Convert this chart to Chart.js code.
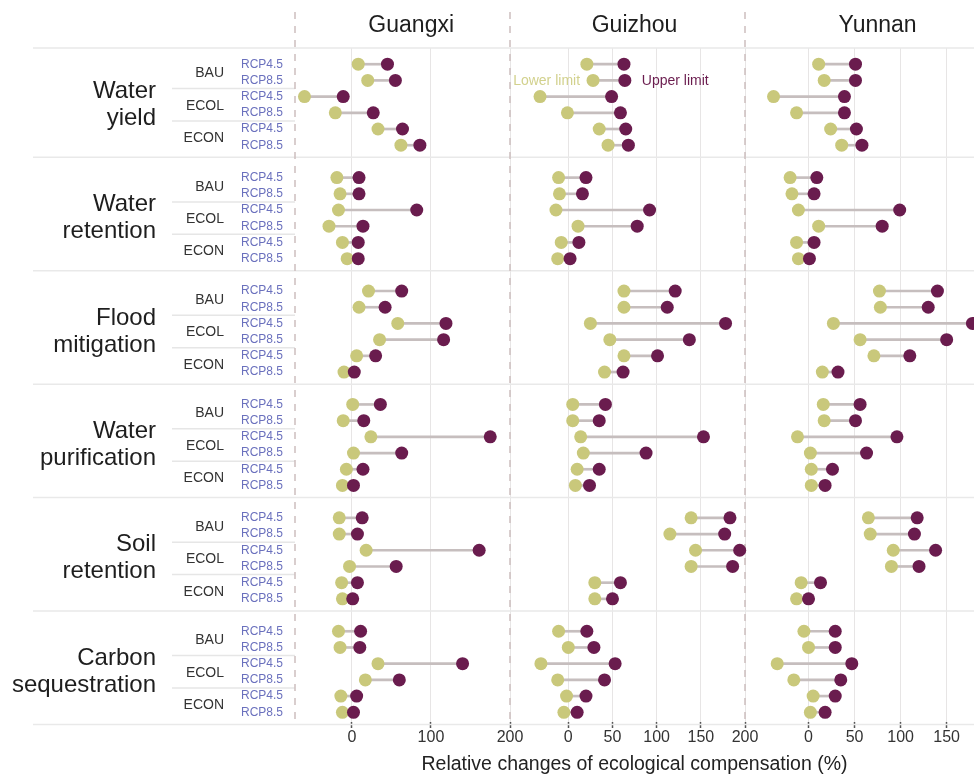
<!DOCTYPE html>
<html>
<head>
<meta charset="utf-8">
<title>Relative changes of ecological compensation</title>
<script src="https://cdn.jsdelivr.net/npm/chart.js@4.4.1/dist/chart.umd.min.js"></script>
<style>
  html, body { margin: 0; padding: 0; background: #fff; }
  #wrap { position: relative; width: 974px; height: 776px; }
</style>
</head>
<body>
<div id="wrap"><canvas id="dumbbell"></canvas></div>
<script>
const services = [['Water', 'yield'], ['Water', 'retention'], ['Flood', 'mitigation'],
                  ['Water', 'purification'], ['Soil', 'retention'], ['Carbon', 'sequestration']];
const scenarios = ['BAU', 'ECOL', 'ECON'];
const rcps = ['RCP4.5', 'RCP8.5'];
const regions = ['Guangxi', 'Guizhou', 'Yunnan'];

// rows: service -> scenario -> rcp (6 per service)
const guangxiLower = [8, 20, -60, -21, 33, 62,   -19, -15, -17, -29, -12, -6,
                      21, 9, 58, 35, 6, -10,     1, -11, 24, 2, -7, -12,
                      -16, -16, 18, -3, -13, -12, -17, -15, 33, 17, -14, -12];
const guangxiUpper = [45, 55, -11, 27, 64, 86,   9, 9, 82, 14, 8, 8,
                      63, 42, 119, 116, 30, 3,   36, 15, 175, 63, 14, 2,
                      13, 7, 161, 56, 7, 1,      11, 10, 140, 60, 6, 2];
const guizhouLower = [21, 28, -32, -1, 35, 45,   -11, -10, -14, 11, -8, -12,
                      63, 63, 25, 47, 63, 41,    5, 5, 14, 17, 10, 8,
                      139, 115, 144, 139, 30, 30, -11, 0, -31, -12, -2, -5];
const guizhouUpper = [63, 64, 49, 59, 65, 68,    20, 16, 92, 78, 12, 2,
                      121, 112, 178, 137, 101, 62, 42, 35, 153, 88, 35, 24,
                      183, 177, 194, 186, 59, 50, 21, 29, 53, 41, 20, 10];
const yunnanLower = [11, 17, -38, -13, 24, 36,   -20, -18, -11, 11, -13, -11,
                     77, 78, 27, 56, 71, 15,     16, 17, -12, 2, 3, 3,
                     65, 67, 92, 90, -8, -13,    -5, 0, -34, -16, 5, 2];
const yunnanUpper = [51, 51, 39, 39, 52, 58,     9, 6, 99, 80, 6, 1,
                     140, 130, 178, 150, 110, 32, 56, 51, 96, 63, 26, 18,
                     118, 115, 138, 120, 13, 0,  29, 29, 47, 35, 29, 18];

const guangxiTicks = [0, 100, 200];
const guizhouTicks = [0, 50, 100, 150, 200];
const yunnanTicks = [0, 50, 100, 150];

const lowerColor = '#c9c87b';
const upperColor = '#6a1c4e';
const stemColor = '#c6bebe';
const rcpColor = '#6a70bd';
const family = "'Liberation Sans', Arial, sans-serif";

// 6 rows per service, one empty slot between services
const rowPos = i => Math.floor(i / 6) * 7 + (i % 6);
const rowLabels = {};
for (let i = 0; i < 36; i++) rowLabels[rowPos(i)] = rcps[i % 2];

const panels = [
  {id: 'x1', name: regions[0], lower: guangxiLower, upper: guangxiUpper, ticks: guangxiTicks, min: -72, max: 200, weight: 215},
  {id: 'x2', name: regions[1], lower: guizhouLower, upper: guizhouUpper, ticks: guizhouTicks, min: -66, max: 200, weight: 235},
  {id: 'x3', name: regions[2], lower: yunnanLower, upper: yunnanUpper, ticks: yunnanTicks, min: -69, max: 179.7, weight: 229}
];

const datasets = [];
panels.forEach(p => {
  datasets.push({
    type: 'scatter', label: p.name + ' upper', xAxisID: p.id, yAxisID: 'y', order: 0,
    data: p.upper.map((v, i) => ({x: v, y: rowPos(i)})),
    backgroundColor: upperColor, borderWidth: 0, pointRadius: 6.5, pointHoverRadius: 6.5, clip: false
  });
  datasets.push({
    type: 'scatter', label: p.name + ' lower', xAxisID: p.id, yAxisID: 'y', order: 1,
    data: p.lower.map((v, i) => ({x: v, y: rowPos(i)})),
    backgroundColor: lowerColor, borderWidth: 0, pointRadius: 6.5, pointHoverRadius: 6.5, clip: false
  });
  datasets.push({
    type: 'bar', label: p.name + ' range', xAxisID: p.id, yAxisID: 'y', order: 2,
    indexAxis: 'y', grouped: false, barThickness: 2,
    data: p.lower.map((v, i) => ({x: [v, p.upper[i]], y: rowPos(i)})),
    backgroundColor: stemColor, borderWidth: 0
  });
});

const scales = {
  y: {
    type: 'linear', position: 'left', reverse: true, min: -1, max: 40.6, offset: false,
    afterBuildTicks: s => { s.ticks = Object.keys(rowLabels).map(v => ({value: +v})); },
    afterFit: s => { s.width = 295; s.paddingTop = 0; s.paddingBottom = 0; },
    ticks: {autoSkip: false, padding: 12, color: rcpColor, font: {family, size: 12},
            callback: v => rowLabels[v]},
    grid: {display: false, drawTicks: false, offset: false},
    border: {display: false}
  }
};
panels.forEach(p => {
  scales[p.id] = {
    type: 'linear', axis: 'x', position: 'bottom', stack: 'panels', stackWeight: p.weight,
    min: p.min, max: p.max,
    afterBuildTicks: s => { s.ticks = p.ticks.map(v => ({value: v})); },
    afterFit: s => { s.height = 54; s.paddingLeft = 0; s.paddingRight = 0; },
    ticks: {autoSkip: false, maxRotation: 0, padding: 0, color: '#333', font: {family, size: 16}},
    grid: {color: '#e7e5e5', lineWidth: 1, drawTicks: true, tickLength: 6, tickColor: '#555', tickWidth: 1.5},
    border: {display: false}
  };
});

const decor = {
  id: 'decor',
  beforeDatasetsDraw(chart) {
    const {ctx, chartArea} = chart;
    const y = chart.scales.y;
    ctx.save();
    // horizontal separators
    ctx.strokeStyle = '#e9e9e9';
    ctx.lineWidth = 1.5;
    const seps = [-1];
    services.forEach((s, g) => seps.push(g * 7 + 5.75));
    seps.forEach(v => {
      const py = y.getPixelForValue(v);
      ctx.beginPath(); ctx.moveTo(33, py); ctx.lineTo(chart.width, py); ctx.stroke();
    });
    ctx.strokeStyle = '#e6e6e6';
    services.forEach((s, g) => {
      [1.5, 3.5].forEach(o => {
        const py = y.getPixelForValue(g * 7 + o);
        ctx.beginPath(); ctx.moveTo(172, py); ctx.lineTo(chartArea.left, py); ctx.stroke();
      });
    });
    // dashed panel borders
    ctx.strokeStyle = '#cdbfbf';
    ctx.lineWidth = 1.5;
    ctx.setLineDash([7, 7]);
    panels.forEach(p => {
      const px = chart.scales[p.id].left;
      ctx.beginPath(); ctx.moveTo(px, 12); ctx.lineTo(px, chartArea.bottom); ctx.stroke();
    });
    ctx.setLineDash([]);

    // left labels
    ctx.textBaseline = 'middle';
    ctx.textAlign = 'right';
    services.forEach((s, g) => {
      const cy = y.getPixelForValue(g * 7 + 2.5);
      ctx.fillStyle = '#1e1e1e';
      ctx.font = '24px ' + family;
      ctx.fillText(s[0], 156, cy - 13.5);
      ctx.fillText(s[1], 156, cy + 13.5);
      ctx.fillStyle = '#333';
      ctx.font = '14px ' + family;
      scenarios.forEach((sc, k) => {
        ctx.fillText(sc, 224, y.getPixelForValue(g * 7 + k * 2 + 0.5) + 1);
      });
    });

    // panel titles
    ctx.textAlign = 'center';
    ctx.fillStyle = '#1e1e1e';
    ctx.font = '23px ' + family;
    panels.forEach(p => {
      ctx.fillText(p.name, chart.scales[p.id].getPixelForValue(75), 26);
    });

    // shared x title
    const x2 = chart.scales.x2;
    ctx.font = '19.5px ' + family;
    ctx.fillStyle = '#222';
    ctx.fillText('Relative changes of ecological compensation (%)', (x2.left + x2.right) / 2 + 7, 765);

    // limit annotations on Guizhou
    const ry = y.getPixelForValue(rowPos(1));
    ctx.font = '14px ' + family;
    ctx.textAlign = 'right';
    ctx.fillStyle = '#d2d18d';
    ctx.fillText('Lower limit', x2.getPixelForValue(guizhouLower[1]) - 13, ry + 1);
    ctx.textAlign = 'left';
    ctx.fillStyle = upperColor;
    ctx.fillText('Upper limit', x2.getPixelForValue(guizhouUpper[1]) + 17, ry + 1);
    ctx.restore();
  }
};

new Chart(document.getElementById('dumbbell'), {
  type: 'scatter',
  data: {datasets},
  options: {
    responsive: true,
    maintainAspectRatio: false,
    animation: false,
    events: [],
    layout: {autoPadding: false, padding: {top: 48, left: 0, right: 0, bottom: 0}},
    plugins: {legend: {display: false}, tooltip: {enabled: false}},
    scales
  },
  plugins: [decor]
});
</script>
</body>
</html>
